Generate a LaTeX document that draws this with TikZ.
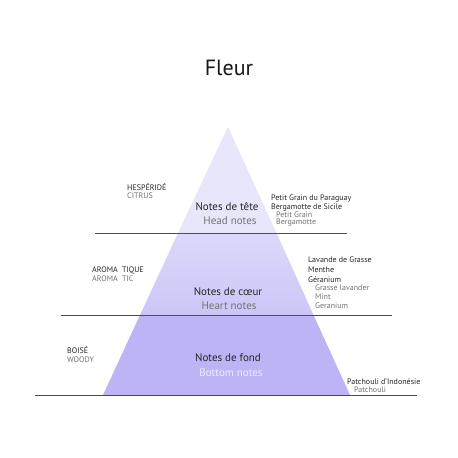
\documentclass[tikz,border=0pt]{standalone}
\usepackage{fontspec}
\setmainfont{PT Sans}
\definecolor{topc}{RGB}{232,230,250}
\definecolor{midt}{RGB}{220,216,250}
\definecolor{midb}{RGB}{204,198,247}
\definecolor{basec}{RGB}{188,180,245}
\definecolor{lightt}{RGB}{240,236,255}
\begin{document}
\begin{tikzpicture}[x=1pt,y=-1pt,
  dark/.style={text=black!85, inner sep=0pt, font=\fontsize{8}{9}\selectfont},
  grey/.style={text=black!55, inner sep=0pt, font=\fontsize{8}{9}\selectfont},
  lvl/.style={text=black!85, inner sep=0pt, font=\fontsize{11}{12}\selectfont},
  lvlsub/.style={text=black!55, inner sep=0pt, font=\fontsize{11}{12}\selectfont},
  rule/.style={draw=black!70, line width=0.9pt}]
\useasboundingbox[fill=white] (0,0) rectangle (458,458);
% pyramid sections
\coordinate (apex) at (228,127);
\coordinate (bl) at (103,395);
\coordinate (br) at (350,395);
\coordinate (l1) at (178,233); \coordinate (r1) at (276.5,233);
\coordinate (l2) at (140,315); \coordinate (r2) at (313.5,315);
\fill[topc] (apex) -- (r1) -- (l1) -- cycle;
\shade[top color=midt, bottom color=midb] (l1) -- (r1) -- (r2) -- (l2) -- cycle;
\fill[basec] (l2) -- (r2) -- (br) -- (bl) -- cycle;
% rules
\coordinate (a1) at (95,233); \coordinate (b1) at (347,233);
\coordinate (a2) at (61,315); \coordinate (b2) at (392,315);
\coordinate (a3) at (35,395); \coordinate (b3) at (417,395);
\draw[rule] (a1) -- (b1);
\draw[rule] (a2) -- (b2);
\draw[rule] (a3) -- (b3);
% title
\node[inner sep=0pt, text=black!90, font=\fontsize{22}{24}\selectfont] (title) at (229,68) {Fleur};
% head
\node[lvl] (head) at (227,207) {Notes de tête};
\node[lvlsub] (heade) at (230,221) {Head notes};
\node[dark, anchor=west] (hesp) at (127,187) {HESPÉRIDÉ};
\node[grey, anchor=west] (citrus) at (127,195.5) {CITRUS};
\node[dark, anchor=west] (h1) at (271,198.5) {Petit Grain du Paraguay};
\node[dark, anchor=west] (h2) at (271,207.5) {Bergamotte de Sicile};
\node[grey, anchor=west] (h3) at (276,215) {Petit Grain};
\node[grey, anchor=west] (h4) at (276,223) {Bergamotte};
% heart
\node[lvl] (heart) at (228,292) {Notes de cœur};
\node[lvlsub] (hearte) at (229,306) {Heart notes};
\node[dark, anchor=west] (arom) at (92,270) {AROMA\ \ TIQUE};
\node[grey, anchor=west] (aromt) at (92,278.5) {AROMA\ \ TIC};
\node[dark, anchor=west] (m1) at (308,260) {Lavande de Grasse};
\node[dark, anchor=west] (m2) at (308,270) {Menthe};
\node[dark, anchor=west] (m3) at (308,279.5) {Géranium};
\node[grey, anchor=west] (m4) at (315,288) {Grasse lavander};
\node[grey, anchor=west] (m5) at (315,297) {Mint};
\node[grey, anchor=west] (m6) at (315,305.5) {Geranium};
% base
\node[lvl] (fond) at (228,358) {Notes de fond};
\node[lvlsub, text=lightt] (fonde) at (231,373) {Bottom notes};
\node[dark, anchor=west] (bois) at (67,350) {BOISÉ};
\node[grey, anchor=west] (woody) at (67,360) {WOODY};
\node[dark, anchor=west] (p1) at (347,381.5) {Patchouli d'Indonésie};
\node[grey, anchor=west] (p2) at (354,390) {Patchouli};
\end{tikzpicture}
\end{document}
